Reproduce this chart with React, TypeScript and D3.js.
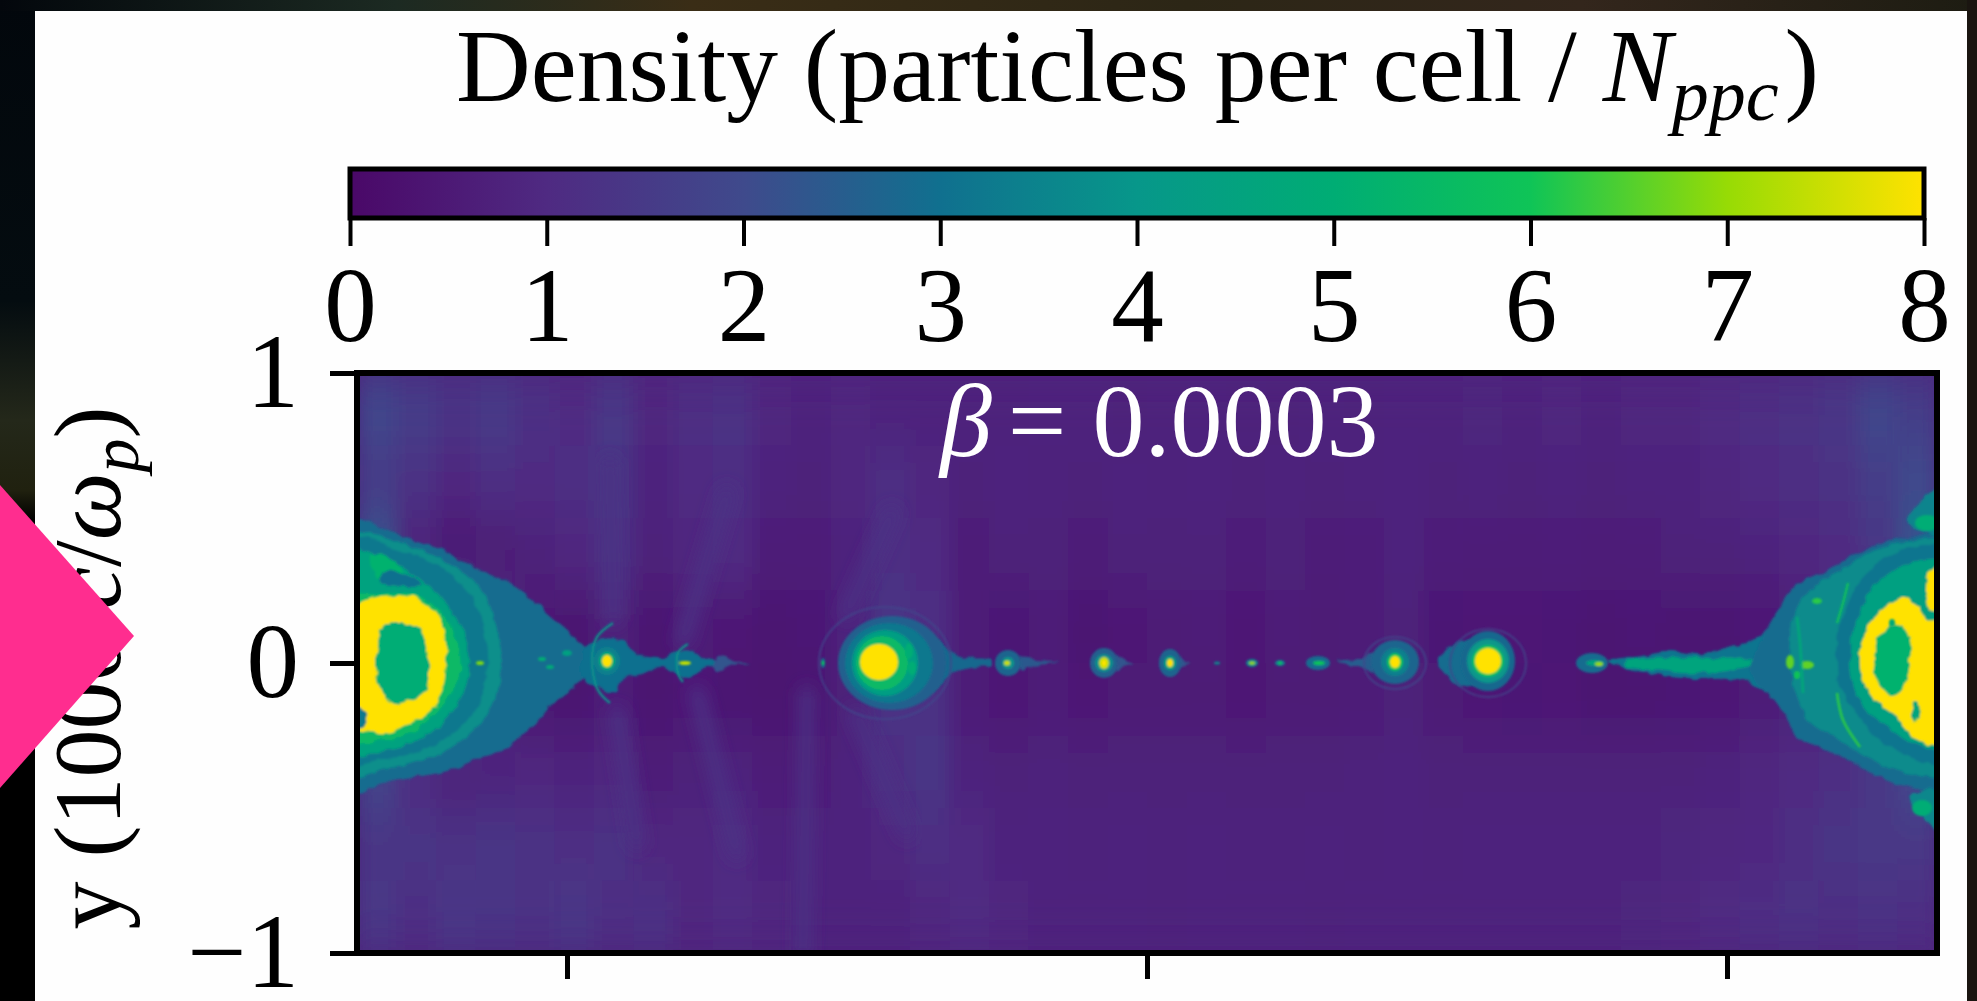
import React, { useEffect, useRef } from "react"
import * as d3 from "d3"

const WIDTH = 1977
const HEIGHT = 1001
const SERIF = "'Liberation Serif', 'Times New Roman', serif"

// colour bar
const colorDomain = [0, 1, 2, 3, 4, 5, 6, 7, 8]
const colorStops = ["#4a0868", "#4f2a82", "#3f4a8c", "#10708f", "#07978a", "#00ad74", "#0fc457", "#97db05", "#ffe200"]
const colorTicks = [0, 1, 2, 3, 4, 5, 6, 7, 8]

// axes: the plot is 1580 x 580 cells, 290 cells = 1000 c/wp
const xDomain = [-790, 790]
const yDomain = [-290, 290]
const xTicks = [-580, 0, 580]
const yTicks = [-1, 0, 1]

// coarse background density, 40 columns left to right, one array per row from the top
const bgRow1 = [1.9, 1.6, 1.3, 1.5, 1.2, 1.0, 1.4, 0.9, 1.1, 1.2, 0.9, 0.8, 0.9, 0.8, 0.8, 0.8, 0.75, 0.8, 0.8, 0.7, 0.75, 0.8, 0.75, 0.7, 0.8, 0.75, 0.8, 0.8, 0.85, 0.8, 0.9, 0.8, 0.9, 0.9, 1.0, 1.1, 1.2, 1.4, 1.9, 1.6]
const bgRow2 = [1.5, 1.2, 0.9, 1.1, 1.0, 1.1, 1.3, 0.8, 1.0, 1.1, 0.8, 0.7, 0.9, 1.1, 0.9, 0.7, 0.8, 0.75, 0.7, 0.8, 0.75, 0.8, 0.7, 0.75, 0.7, 0.75, 0.8, 0.7, 0.8, 0.7, 0.8, 0.7, 0.8, 0.8, 0.9, 1.0, 1.1, 1.2, 1.6, 2.0]
const bgRow3 = [2.2, 0.7, 0.45, 0.55, 0.7, 0.9, 1.2, 0.7, 0.9, 1.0, 0.6, 0.6, 0.8, 1.1, 1.0, 0.6, 0.7, 0.7, 0.6, 0.7, 0.7, 0.7, 0.65, 0.7, 0.6, 0.65, 0.8, 0.65, 0.6, 0.6, 0.65, 0.6, 0.6, 0.7, 0.7, 0.8, 0.9, 1.0, 1.3, 2.2]
const bgRow4 = [2.6, 2.6, 2.0, 1.0, 0.5, 0.35, 0.7, 0.4, 0.6, 0.5, 0.4, 0.45, 0.8, 1.3, 1.1, 0.6, 0.45, 0.6, 0.4, 0.5, 0.55, 0.6, 0.5, 0.6, 0.55, 0.6, 0.7, 0.45, 0.5, 0.5, 0.45, 0.4, 0.45, 0.4, 0.4, 0.5, 0.6, 1.0, 1.6, 2.4]
const bgRow5 = [2.4, 2.6, 1.8, 0.7, 0.4, 0.35, 0.6, 0.35, 0.5, 0.4, 0.35, 0.4, 0.7, 1.2, 1.2, 0.6, 0.5, 0.6, 0.5, 0.55, 0.55, 0.55, 0.5, 0.55, 0.55, 0.6, 0.7, 0.55, 0.5, 0.45, 0.5, 0.4, 0.4, 0.45, 0.5, 0.6, 0.7, 0.9, 1.4, 2.4]
const bgRow6 = [1.8, 1.0, 0.7, 0.8, 0.9, 0.8, 0.9, 0.6, 0.7, 0.8, 0.6, 0.6, 0.8, 1.1, 1.3, 0.8, 0.7, 0.75, 0.7, 0.7, 0.7, 0.7, 0.7, 0.7, 0.7, 0.75, 0.8, 0.7, 0.7, 0.7, 0.7, 0.7, 0.7, 0.7, 0.8, 0.9, 1.0, 1.1, 1.4, 2.0]
const bgRow7 = [1.3, 1.3, 1.2, 1.3, 1.2, 1.1, 1.2, 0.9, 0.9, 1.0, 0.8, 0.8, 0.8, 0.9, 1.1, 1.0, 0.8, 0.8, 0.75, 0.8, 0.75, 0.8, 0.75, 0.75, 0.8, 0.75, 0.8, 0.75, 0.8, 0.8, 0.8, 0.8, 0.8, 0.85, 0.9, 0.95, 1.1, 1.3, 1.4, 1.4]
const bgRow8 = [1.4, 1.1, 1.4, 1.3, 1.2, 1.4, 1.1, 1.2, 0.9, 1.0, 0.9, 0.8, 0.8, 0.8, 0.9, 1.0, 0.9, 0.8, 0.8, 0.8, 0.75, 0.8, 0.8, 0.8, 0.75, 0.8, 0.8, 0.8, 0.8, 0.8, 0.8, 0.8, 0.85, 0.9, 1.0, 1.1, 1.2, 1.1, 1.2, 1.1]
const bgRows = [bgRow1, bgRow2, bgRow3, bgRow4, bgRow5, bgRow6, bgRow7, bgRow8]

type Pt = [number, number]

// faint rays leaving the islands, in cells
const rays: Pt[][] = [
  [[-291, -50], [-240, -170]],
  [[-255, 150], [-300, 50]],
  [[-344, -290], [-340, -30]],
  [[-537, 200], [-534, 46]],
  [[-420, 170], [-464, 23]],
  [[-530, -50], [-510, -180]],
  [[-450, -30], [-410, -190]],
]

// left lobe, outside to inside
const lobeL1: Pt[] = [[-800, 142], [-764, 135], [-737, 123], [-710, 115], [-684, 101], [-654, 88], [-627, 73], [-607, 56], [-584, 36], [-564, 18], [-554, 6], [-554, -7], [-564, -17], [-580, -30], [-597, -44], [-615, -64], [-640, -84], [-670, -97], [-697, -107], [-730, -114], [-764, -120], [-800, -132]]
const lobeL2: Pt[] = [[-800, 128], [-747, 120], [-710, 106], [-680, 88], [-660, 63], [-650, 33], [-645, 0], [-650, -30], [-664, -57], [-684, -77], [-714, -94], [-754, -104], [-800, -112]]
const lobeL3: Pt[] = [[-800, 123], [-747, 113], [-710, 98], [-684, 76], [-667, 50], [-660, 20], [-659, -4], [-664, -30], [-677, -54], [-700, -75], [-734, -90], [-767, -97], [-800, -100]]
const lobeL4: Pt[] = [[-800, 113], [-764, 106], [-737, 90], [-710, 70], [-690, 46], [-679, 16], [-679, -14], [-687, -37], [-704, -60], [-730, -77], [-760, -87], [-800, -90]]
const lobeL5: Pt[] = [[-800, 66], [-777, 68], [-747, 70], [-717, 61], [-697, 36], [-687, 6], [-689, -17], [-704, -40], [-727, -64], [-760, -77], [-800, -77]]
const lobeL6: Pt[] = [[-800, 50], [-774, 65], [-740, 67], [-719, 58], [-703, 33], [-701, 3], [-704, -24], [-716, -47], [-740, -62], [-760, -71], [-777, -69], [-800, -60]]
const lobeL7: Pt[] = [[-765, 36], [-747, 40], [-727, 33], [-719, 13], [-719, -17], [-724, -30], [-754, -40], [-767, -24], [-772, -4], [-769, 16]]
const patchL1: Pt[] = [[-775, 108], [-750, 100], [-745, 85], [-770, 85]]
const patchL2: Pt[] = [[-765, 92], [-740, 88], [-725, 78], [-745, 76], [-765, 80]]
const patchL3: Pt[] = [[-800, -38], [-785, -45], [-780, -58], [-790, -66], [-800, -66]]

// tail running out of the left lobe through the first two islands
const tailL: Pt[] = [[-564, 13], [-547, 23], [-527, 23], [-510, 10], [-484, 5], [-469, 13], [-457, 13], [-444, 5], [-420, 1], [-397, 0], [-420, -2], [-444, -5], [-457, -15], [-469, -12], [-487, -4], [-504, -10], [-524, -17], [-534, -29], [-549, -24], [-564, -17]]

// wedges beside the small islands
const wedgeA: Pt[] = [[-215, 28], [-195, 10], [-175, 5], [-155, 3], [-155, -3], [-175, -5], [-195, -10], [-215, -28]]
const wedgeB: Pt[] = [[-127, 6], [-108, 2], [-88, 0.5], [-108, -2], [-127, -6]]
const wedgeC: Pt[] = [[-31, 8], [-22, 3], [-14, 0], [-22, -3], [-31, -8]]
const wedgeD: Pt[] = [[33, 6], [38, 2], [43, 0], [38, -2], [33, -6]]
const wedgeE: Pt[] = [[226, 10], [212, 4], [190, 0.5], [212, -4], [226, -10]]
const wedgeF: Pt[] = [[290, 0], [318, 24], [330, 20], [330, -20], [318, -24]]
const wedgeG: Pt[] = [[-430, 8], [-414, 2], [-398, 0.5], [-414, -2], [-430, -8]]

// right lobe, outside to inside
const tailR: Pt[] = [[460, 2], [475, 4], [500, 8], [523, 12], [556, 9], [583, 17], [603, 21], [622, 30], [640, 20], [640, -28], [620, -30], [600, -19], [580, -16], [556, -16], [523, -14], [500, -10], [475, -4]]
const streakR: Pt[] = [[478, 1], [520, 6], [560, 4], [600, 4], [620, 0], [600, -4], [560, -9], [520, -8], [478, -2]]
const lobeR1: Pt[] = [[616, 26], [633, 56], [653, 80], [680, 93], [706, 108], [733, 120], [763, 126], [800, 127], [800, -125], [763, -124], [733, -114], [700, -97], [673, -84], [650, -74], [636, -47], [620, -30], [604, -10]]
const lobeR2: Pt[] = [[646, 50], [663, 73], [693, 93], [720, 110], [753, 120], [800, 121], [800, -110], [760, -110], [726, -97], [693, -77], [663, -60], [650, -34], [643, -4], [643, 26]]
const lobeR3: Pt[] = [[700, 56], [713, 83], [740, 106], [766, 115], [800, 115], [800, -100], [763, -94], [730, -74], [710, -50], [693, -24], [690, 3], [690, 30]]
const lobeR4: Pt[] = [[713, 50], [726, 76], [753, 96], [800, 100], [800, -84], [766, -80], [740, -64], [716, -44], [705, -17], [703, 10], [706, 33]]
const lobeR5: Pt[] = [[713, 6], [720, 33], [736, 55], [756, 65], [770, 58], [780, 43], [800, 43], [800, -80], [766, -74], [750, -54], [736, -44], [723, -30], [715, -14]]
const lobeR5b: Pt[] = [[779, 72], [783, 92], [800, 96], [800, 50], [780, 56]]
const lobeR6: Pt[] = [[726, 3], [733, 28], [746, 40], [761, 30], [763, 0], [758, -20], [746, -34], [733, -24]]
const patchR1: Pt[] = [[760, 140], [766, 153], [800, 180], [800, 131], [776, 131]]
const patchR2: Pt[] = [[763, -134], [780, -127], [800, -127], [800, -175], [776, -154]]
const patchR3: Pt[] = [[768, -38], [773, -42], [772, -55], [767, -60], [765, -50]]

const contours = [
  lobeL1, lobeL2, lobeL3, lobeL4, patchL1, patchL2, lobeL5, lobeL6, lobeL7, patchL3, tailL, wedgeG,
  wedgeA, wedgeB, wedgeC, wedgeD, wedgeE, wedgeF,
  tailR, streakR, lobeR1, lobeR2, lobeR3, lobeR4, lobeR5, lobeR5b, lobeR6, patchR1, patchR2, patchR3,
]
const contourLevels = [
  2.9, 3.8, 3.2, 4.5, 5.2, 3, 5.5, 8, 5, 3.2, 3, 2.3,
  2.8, 2.4, 2.3, 2.3, 2.5, 2.9,
  3.1, 4.6, 2.9, 3.7, 3.1, 4.4, 8, 8, 5.2, 3.5, 3.6, 4.6,
]

// thin shock fronts, in cells
const arcs: Pt[][] = [
  [[-534, 40], [-550, 26], [-555, 3], [-549, -27], [-537, -40]],
  [[-459, 19], [-469, 10], [-469, -10], [-464, -19]],
  [[701, 80], [696, 60], [690, 40]],
  [[690, -30], [696, -57], [713, -84]],
  [[650, 46], [653, 20], [656, -30]],
]
const arcLevels = [3.8, 3.8, 5.8, 6.2, 4.8]

// islands and bright spots along the sheet, drawn in this order
const blobX = [-255, -258, -262, -265, -268, -238, -235, -139, -139, -140, -43, -43, -43, -43, 23, 23, 23, 70, 105, 105, 133, 133, 171, 172, 248, 248, 248, 248, 341, 341, 341, 341, 445, 448, 452, -324, -324, -540, -540, -540, -462, -667, -605, -597, -580, 643, 660, 650, 670, 745, 780, 775]
const blobY = [0, 0, 0, 0, 1, 12, -5, 0, 0, 0, 0, 0, 0, 0, 0, 0, 0, 0, 0, 0, 0, 0, 0, 0, 1, 1, 1, 1, 2, 2, 2, 2, 0, 0, -1, 0, 0, 2, 2, 2, 0, 0, 4, -4, 10, 1, -2, -12, 62, 40, 140, -145]
const blobRx = [54, 44, 33, 26, 19, 4, 4, 13, 6, 3, 14, 9, 5, 2, 11, 6, 3, 3, 6, 3, 5, 2, 12, 6, 24, 14, 8, 5, 27, 21, 16, 13, 16, 9, 4, 2, 1.5, 13, 8, 5, 6, 4, 4, 4, 5, 4, 7, 3, 5, 3, 12, 10]
const blobRy = [47, 40, 33, 27, 18, 8, 7, 13, 6, 2.5, 15, 9, 6, 3, 14, 7, 4, 1.5, 4, 1.5, 3, 1.5, 7, 2, 22, 14, 9, 6, 30, 22, 16, 13, 10, 3, 2, 5, 2, 14, 9, 6, 2, 2, 2, 2, 3, 7, 4, 4, 3, 4, 8, 8]
const blobLevel = [2.6, 3.2, 4.3, 5.5, 8, 5, 5, 2.7, 4, 7.5, 2.6, 3.8, 7.5, 8, 2.7, 4.5, 8, 3.5, 3.5, 7, 3.5, 6, 2.9, 6, 2.7, 3.4, 6, 8, 2.8, 4, 5.8, 8, 2.9, 4.5, 7, 3, 6, 3.4, 5, 8, 7.4, 6.8, 5, 4.8, 4.4, 6.6, 6.6, 6, 6.2, 4.8, 5, 5]

// faint shells round the big islands
const shellX = [-262, 248, 341]
const shellRx = [66, 31, 38]
const shellRy = [56, 26, 34]

const titleText = "Density (particles per cell / "
const betaValue = "= 0.0003"

export default function App() {
  const ref = useRef<SVGSVGElement | null>(null)

  useEffect(() => {
    document.body.style.margin = "0"
    document.body.style.background = "#000"
    const svg = d3.select(ref.current)
    svg.selectAll("*").remove()

    const color = d3.scaleLinear<string>().domain(colorDomain).range(colorStops).clamp(true)

    const plotLeft = 357
    const plotRight = 1937
    const plotTop = 373
    const plotBottom = 953
    const x = d3.scaleLinear().domain(xDomain).range([plotLeft, plotRight])
    const y = d3.scaleLinear().domain(yDomain).range([plotBottom, plotTop])
    const yAxisScale = d3.scaleLinear().domain([-1, 1]).range([plotBottom, plotTop])

    const defs = svg.append("defs")
    defs.append("clipPath").attr("id", "plot-clip").append("rect")
      .attr("x", plotLeft).attr("y", plotTop).attr("width", plotRight - plotLeft).attr("height", plotBottom - plotTop)
    const addBlur = (id: string, s: string | number) =>
      defs.append("filter").attr("id", id).attr("x", "-5%").attr("y", "-5%").attr("width", "110%").attr("height", "110%")
        .append("feGaussianBlur").attr("stdDeviation", s)
    addBlur("soft-bg", "9 26")
    addBlur("soft-ray", 8)
    addBlur("soft-mark", 0.9)
    addBlur("soft-text", 0.45)

    // rough edges on the density contours, the simulation's are jagged
    const rough = defs.append("filter").attr("id", "rough")
      .attr("filterUnits", "userSpaceOnUse").attr("x", plotLeft - 20).attr("y", plotTop - 20)
      .attr("width", plotRight - plotLeft + 40).attr("height", plotBottom - plotTop + 40)
    rough.append("feTurbulence").attr("type", "fractalNoise").attr("baseFrequency", 0.09).attr("numOctaves", 2).attr("seed", 4).attr("result", "n")
    rough.append("feDisplacementMap").attr("in", "SourceGraphic").attr("in2", "n").attr("scale", 7).attr("xChannelSelector", "R").attr("yChannelSelector", "G").attr("result", "d")
    rough.append("feGaussianBlur").attr("in", "d").attr("stdDeviation", 0.9)

    const barGrad = defs.append("linearGradient").attr("id", "bar-grad")
    colorDomain.forEach((d, i) => {
      barGrad.append("stop").attr("offset", d / 8).attr("stop-color", colorStops[i])
    })
    const topGrad = defs.append("linearGradient").attr("id", "top-grad")
    ;[["0", "#03070c"], ["0.2", "#1c2a22"], ["0.35", "#3a2d16"], ["0.6", "#2c2616"], ["0.8", "#33261c"], ["1", "#1d1c12"]].forEach(([o, c]) => {
      topGrad.append("stop").attr("offset", o).attr("stop-color", c)
    })
    const leftGrad = defs.append("linearGradient").attr("id", "left-grad").attr("x2", 0).attr("y2", 1)
    ;[["0", "#02070c"], ["0.3", "#040c10"], ["0.42", "#24281a"], ["0.49", "#20210f"], ["0.52", "#000"], ["1", "#000"]].forEach(([o, c]) => {
      leftGrad.append("stop").attr("offset", o).attr("stop-color", c)
    })

    // backdrop behind the slide
    svg.append("rect").attr("width", WIDTH).attr("height", HEIGHT).attr("fill", "#000")
    svg.append("rect").attr("width", 36).attr("height", HEIGHT).attr("fill", "url(#left-grad)")
    svg.append("rect").attr("width", WIDTH).attr("height", 11).attr("fill", "url(#top-grad)")
    svg.append("rect").attr("x", 1967).attr("width", 10).attr("height", HEIGHT).attr("fill", "#1a1510")
    svg.append("rect").attr("x", 35).attr("y", 11).attr("width", 1932).attr("height", HEIGHT - 11).attr("fill", "#fefefe")

    // heat map
    const plot = svg.append("g").attr("clip-path", "url(#plot-clip)")
    const colBand = d3.scaleBand<number>().domain(d3.range(bgRow1.length)).range([plotLeft, plotRight])
    const rowBand = d3.scaleBand<number>().domain(d3.range(bgRows.length)).range([plotTop, plotBottom])
    plot.append("rect").attr("x", plotLeft).attr("y", plotTop).attr("width", plotRight - plotLeft).attr("height", plotBottom - plotTop).attr("fill", color(0.75))
    plot.append("g").attr("filter", "url(#soft-bg)")
      .selectAll("g").data(bgRows).join("g")
      .attr("transform", (_, i) => `translate(0,${rowBand(i)})`)
      .selectAll("rect").data((row) => row).join("rect")
      .attr("x", (_, i) => colBand(i) as number)
      .attr("width", colBand.bandwidth() + 1)
      .attr("height", rowBand.bandwidth() + 1)
      .attr("fill", (d) => color(d))

    const rayLine = d3.line<Pt>().x((d) => x(d[0])).y((d) => y(d[1]))
    plot.append("g").attr("filter", "url(#soft-ray)")
      .selectAll("path").data(rays).join("path")
      .attr("d", (d) => rayLine(d))
      .attr("fill", "none")
      .attr("stroke", color(1.2))
      .attr("stroke-width", 14)
      .attr("stroke-linecap", "round")

    const closed = d3.line<Pt>().x((d) => x(d[0])).y((d) => y(d[1])).curve(d3.curveCatmullRomClosed.alpha(0.5))
    plot.append("g").attr("filter", "url(#rough)")
      .selectAll("path.contour").data(contours).join("path")
      .attr("class", "contour")
      .attr("d", (d) => closed(d))
      .attr("fill", (_, i) => color(contourLevels[i]))

    const marks = plot.append("g").attr("filter", "url(#soft-mark)")
    marks.selectAll("ellipse.shell").data(shellX).join("ellipse")
      .attr("class", "shell")
      .attr("cx", (d) => x(d))
      .attr("cy", y(0))
      .attr("rx", (_, i) => x(shellRx[i]) - x(0))
      .attr("ry", (_, i) => y(0) - y(shellRy[i]))
      .attr("fill", "none")
      .attr("stroke", color(1.9))
      .attr("stroke-width", 1.5)

    marks.selectAll("ellipse.blob").data(blobX).join("ellipse")
      .attr("class", "blob")
      .attr("cx", (d) => x(d))
      .attr("cy", (_, i) => y(blobY[i]))
      .attr("rx", (_, i) => x(blobRx[i]) - x(0))
      .attr("ry", (_, i) => y(0) - y(blobRy[i]))
      .attr("fill", (_, i) => color(blobLevel[i]))

    const open = d3.line<Pt>().x((d) => x(d[0])).y((d) => y(d[1])).curve(d3.curveCatmullRom)
    marks.selectAll("path.arc").data(arcs).join("path")
      .attr("class", "arc")
      .attr("d", (d) => open(d))
      .attr("fill", "none")
      .attr("stroke", (_, i) => color(arcLevels[i]))
      .attr("stroke-width", 2.5)

    const textLayer = svg.append("g").attr("filter", "url(#soft-text)").attr("font-family", SERIF).attr("fill", "#000")

    // beta label
    const beta = textLayer.append("text").attr("x", 940).attr("y", 456).attr("font-size", 104).attr("fill", "#fff")
    beta.append("tspan").attr("font-style", "italic").text("β")
    beta.append("tspan").attr("dx", 16).text(betaValue)

    // frame
    svg.append("rect")
      .attr("x", plotLeft).attr("y", plotTop).attr("width", plotRight - plotLeft).attr("height", plotBottom - plotTop)
      .attr("fill", "none").attr("stroke", "#000").attr("stroke-width", 6)

    const styleAxis = (g: d3.Selection<SVGGElement, unknown, null, undefined>) => {
      g.select(".domain").remove()
      g.selectAll("line").attr("stroke", "#000").attr("stroke-width", 5)
      g.selectAll("text").attr("font-family", SERIF).attr("font-size", 105).attr("fill", "#000").attr("filter", "url(#soft-text)")
    }

    // axes
    svg.append<SVGGElement>("g").attr("transform", `translate(0,${plotBottom})`)
      .call(d3.axisBottom(x).tickValues(xTicks).tickSize(26).tickFormat(() => ""))
      .call(styleAxis)

    svg.append<SVGGElement>("g").attr("transform", `translate(${plotLeft},0)`)
      .call(d3.axisLeft(yAxisScale).tickValues(yTicks).tickSize(27).tickPadding(31).tickFormat((d) => (+d < 0 ? "−" + Math.abs(+d) : String(d))))
      .call(styleAxis)
      .selectAll("text").attr("dy", null).attr("y", 33)

    // colour bar
    const barLeft = 350
    const barRight = 1924
    const barTop = 169
    const barBottom = 218
    const bar = d3.scaleLinear().domain([0, 8]).range([barLeft, barRight])
    svg.append("rect").attr("x", barLeft).attr("y", barTop).attr("width", barRight - barLeft).attr("height", barBottom - barTop)
      .attr("fill", "url(#bar-grad)").attr("stroke", "#000").attr("stroke-width", 5)
    svg.append<SVGGElement>("g").attr("transform", `translate(0,${barBottom})`)
      .call(d3.axisBottom(bar).tickValues(colorTicks).tickSize(28).tickPadding(20).tickFormat(d3.format("d")))
      .call(styleAxis)
      .selectAll("line").attr("stroke-width", 4)

    // title
    const title = textLayer.append("text").attr("x", 456).attr("y", 101).attr("font-size", 103.5)
    title.append("tspan").text(titleText)
    title.append("tspan").attr("font-style", "italic").text("N")
    title.append("tspan").attr("font-style", "italic").attr("font-size", 74).attr("dy", 19).text("ppc")
    title.append("tspan").attr("dy", -19).attr("dx", 6).text(")")

    // y label
    const yLabel = textLayer.append("text").attr("transform", "translate(120,668) rotate(-90)").attr("text-anchor", "middle").attr("font-size", 96)
    yLabel.append("tspan").text("y (1000 ")
    yLabel.append("tspan").attr("font-style", "italic").text("c")
    yLabel.append("tspan").text("/")
    yLabel.append("tspan").attr("font-style", "italic").text("ω")
    yLabel.append("tspan").attr("font-style", "italic").attr("font-size", 68).attr("dy", 18).text("p")
    yLabel.append("tspan").attr("dy", -18).text(")")

    // slide marker that sits on top of the figure
    svg.append("polygon").attr("points", "0,485 134,636 0,788").attr("fill", "#ff2d8f")
  }, [])

  return <svg ref={ref} width={WIDTH} height={HEIGHT} style={{ display: "block" }} />
}
